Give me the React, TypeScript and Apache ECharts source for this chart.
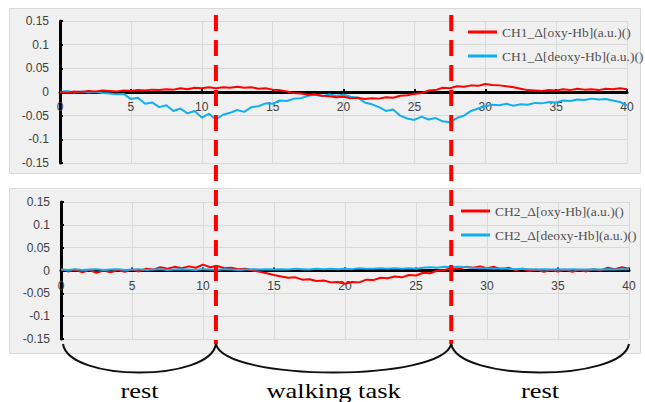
import React, { useEffect, useRef } from "react";
import * as echarts from "echarts";

// sampling step of the recordings (seconds)
const T_STEP = 0.5;

const CH1_OXY = [
  0.000, -0.002, 0.001, 0.000, 0.002, 0.001, 0.003, 0.002, 0.001, 0.003,
  0.002, 0.004, 0.003, 0.005, 0.004, 0.006, 0.005, 0.008, 0.006, 0.009,
  0.008, 0.010, 0.008, 0.010, 0.009, 0.011, 0.009, 0.010, 0.007, 0.008,
  0.005, 0.004, 0.001, -0.002, -0.003, -0.006, -0.005, -0.008, -0.009, -0.011,
  -0.010, -0.013, -0.012, -0.015, -0.013, -0.014, -0.011, -0.012, -0.008, -0.007,
  -0.004, -0.002, 0.003, 0.004, 0.009, 0.008, 0.012, 0.011, 0.014, 0.013,
  0.017, 0.015, 0.014, 0.012, 0.010, 0.007, 0.004, 0.003, 0.002, 0.004,
  0.003, 0.006, 0.004, 0.007, 0.005, 0.006, 0.004, 0.007, 0.006, 0.008,
  0.006,
];

const CH1_DEOXY = [
  0.000, 0.002, -0.001, 0.001, -0.001, 0.000, -0.002, -0.003, -0.005, -0.004,
  -0.015, -0.012, -0.025, -0.022, -0.032, -0.028, -0.040, -0.035, -0.045, -0.040,
  -0.054, -0.046, -0.058, -0.048, -0.044, -0.038, -0.042, -0.032, -0.030, -0.024,
  -0.025, -0.018, -0.019, -0.014, -0.013, -0.008, -0.006, -0.009, -0.005, -0.008,
  -0.006, -0.010, -0.012, -0.022, -0.026, -0.032, -0.040, -0.037, -0.050, -0.056,
  -0.059, -0.052, -0.058, -0.055, -0.062, -0.064, -0.055, -0.050, -0.040, -0.035,
  -0.030, -0.027, -0.028, -0.025, -0.029, -0.026, -0.027, -0.023, -0.024, -0.021,
  -0.022, -0.018, -0.019, -0.016, -0.017, -0.014, -0.016, -0.015, -0.018, -0.021,
  -0.028,
];

const CH2_OXY = [
  0.003, -0.002, 0.002, -0.004, 0.001, -0.005, 0.000, -0.004, 0.001, -0.003,
  0.002, -0.002, 0.004, 0.002, 0.007, 0.004, 0.008, 0.005, 0.009, 0.006,
  0.013, 0.007, 0.010, 0.005, 0.006, 0.003, 0.004, 0.000, -0.003, -0.006,
  -0.010, -0.013, -0.016, -0.015, -0.020, -0.019, -0.023, -0.022, -0.026, -0.025,
  -0.029, -0.025, -0.026, -0.020, -0.021, -0.016, -0.017, -0.013, -0.015, -0.010,
  -0.011, -0.005, -0.006, 0.000, 0.001, 0.005, 0.004, 0.008, 0.006, 0.009,
  0.005, 0.008, 0.003, 0.006, 0.001, 0.004, -0.001, 0.002, -0.003, 0.001,
  -0.002, 0.002, -0.003, 0.001, -0.002, 0.003, 0.000, 0.006, 0.003, 0.007,
  0.004,
];

const CH2_DEOXY = [
  0.002, 0.001, 0.003, 0.001, 0.002, 0.003, 0.001, 0.002, 0.003, 0.001,
  0.002, 0.003, 0.001, 0.002, 0.003, 0.001, 0.002, 0.003, 0.002, 0.001,
  0.003, 0.002, 0.001, 0.003, 0.002, 0.001, 0.002, 0.003, 0.002, 0.003,
  0.002, 0.003, 0.002, 0.004, 0.003, 0.002, 0.004, 0.003, 0.004, 0.003,
  0.004, 0.003, 0.005, 0.004, 0.004, 0.005, 0.004, 0.005, 0.004, 0.005,
  0.004, 0.006, 0.007, 0.006, 0.008, 0.007, 0.008, 0.007, 0.006, 0.005,
  0.005, 0.004, 0.005, 0.004, 0.003, 0.004, 0.003, 0.002, 0.003, 0.002,
  0.003, 0.002, 0.003, 0.002, 0.002, 0.003, 0.002, 0.003, 0.002, 0.003,
  0.003,
];

const SERIES_NAMES = [
  "CH1_\u0394[oxy-Hb](a.u.)()",
  "CH1_\u0394[deoxy-Hb](a.u.)()",
  "CH2_\u0394[oxy-Hb](a.u.)()",
  "CH2_\u0394[deoxy-Hb](a.u.)()",
];

const Y_TICK_LABELS = ["-0.15", "-0.1", "-0.05", "0", "0.05", "0.1", "0.15"];
const X_TICK_LABELS = ["0", "5", "10", "15", "20", "25", "30", "35", "40"];

const PHASE_BOUNDS = [0, 11, 27.6, 40];
const PHASE_LABELS = ["rest", "walking task", "rest"];

const RED = "#ff0000";
const BLUE = "#12aff0";

const GRIDS = [
  { left: 60, top: 21, width: 567, height: 142 },
  { left: 61, top: 202, width: 568, height: 137 },
];

const pairs = (arr: number[]) => arr.map((v, i) => [i * T_STEP, v]);

export default function App() {
  const ref = useRef<HTMLDivElement>(null);
  useEffect(() => {
    document.body.style.margin = "0";
    const chart = echarts.init(ref.current!, undefined, { renderer: "svg" });

    const xAxis = [0, 1].map((g) => ({
      type: "value",
      gridIndex: g,
      min: 0,
      max: 40,
      interval: 5,
      position: "bottom",
      // place the axis on the zero line (middle of the symmetric range)
      offset: -GRIDS[g].height / 2,
      axisLine: { onZero: false, lineStyle: { color: "#000", width: 3 } },
      axisTick: { show: true, inside: true, length: 3, lineStyle: { color: "#000", width: 2 } },
      axisLabel: {
        color: "#404040",
        fontFamily: "Liberation Sans",
        fontSize: 12,
        margin: 9,
        formatter: (v: number) => X_TICK_LABELS[Math.round(v / 5)] ?? "",
      },
      splitLine: { show: true, lineStyle: { color: "#d9d9d9", width: 1 } },
    }));

    const yAxis = [0, 1].map((g) => ({
      type: "value",
      gridIndex: g,
      min: -0.15,
      max: 0.15,
      interval: 0.05,
      axisLine: { show: true, onZero: false, lineStyle: { color: "#000", width: 3 } },
      axisTick: { show: true, inside: true, length: 3, lineStyle: { color: "#000", width: 2 } },
      axisLabel: {
        color: "#404040",
        fontFamily: "Liberation Sans",
        fontSize: 12,
        margin: 11,
        formatter: (v: number) => Y_TICK_LABELS[Math.round((v + 0.15) / 0.05)] ?? "",
      },
      splitLine: { show: true, lineStyle: { color: "#d9d9d9", width: 1 } },
    }));

    const line = (name: string, data: number[], color: string, g: number) => ({
      type: "line",
      name,
      xAxisIndex: g,
      yAxisIndex: g,
      data: pairs(data),
      symbol: "none",
      showSymbol: false,
      lineStyle: { color, width: 2 },
      itemStyle: { color },
      z: 3,
    });

    const legendBase = {
      orient: "vertical",
      icon: "rect",
      itemWidth: 29,
      itemHeight: 3,
      itemGap: 10,
      textStyle: { fontFamily: "Liberation Serif", fontSize: 13.5, color: "#505050" },
    };

    chart.setOption({
      animation: false,
      backgroundColor: "#ffffff",
      grid: GRIDS,
      legend: [
        { ...legendBase, left: 463, top: 20, data: [SERIES_NAMES[0], SERIES_NAMES[1]] },
        { ...legendBase, left: 456, top: 199, data: [SERIES_NAMES[2], SERIES_NAMES[3]] },
      ],
      xAxis,
      yAxis,
      series: [
        line(SERIES_NAMES[1], CH1_DEOXY, BLUE, 0),
        line(SERIES_NAMES[0], CH1_OXY, RED, 0),
        line(SERIES_NAMES[2], CH2_OXY, RED, 1),
        line(SERIES_NAMES[3], CH2_DEOXY, BLUE, 1),
      ],
    });

    const px = (g: number, x: number, y: number) =>
      chart.convertToPixel({ gridIndex: g }, [x, y]) as number[];

    const bx = PHASE_BOUNDS.map((b) => px(0, b, 0)[0]);
    bx[0] = px(1, 0, 0)[0] + 2;
    bx[3] = px(1, 40, 0)[0];
    const bottomY = px(1, 0, -0.15)[1];
    const braceTop = bottomY + 5;
    const braceCtl = braceTop + 38;

    const elements: any[] = [
      {
        type: "rect",
        z: -10,
        silent: true,
        shape: { x: 9.5, y: 8.5, width: 631, height: 165 },
        style: { fill: "#f0f0f0", stroke: "#d9d9d9", lineWidth: 1 },
      },
      {
        type: "rect",
        z: -10,
        silent: true,
        shape: { x: 9.5, y: 188.5, width: 631, height: 165 },
        style: { fill: "#f0f0f0", stroke: "#d9d9d9", lineWidth: 1 },
      },
    ];

    [1, 2].forEach((i) => {
      elements.push({
        type: "line",
        z: 100,
        silent: true,
        shape: { x1: bx[i], y1: 15, x2: bx[i], y2: braceTop },
        style: { stroke: RED, lineWidth: 4, lineDash: [16, 9] },
      });
    });

    for (let i = 0; i < 3; i++) {
      const x1 = bx[i];
      const x2 = bx[i + 1];
      const w = x2 - x1;
      elements.push({
        type: "bezierCurve",
        z: 90,
        silent: true,
        shape: {
          x1,
          y1: braceTop,
          cpx1: x1 + w * 0.04,
          cpy1: braceCtl,
          cpx2: x2 - w * 0.04,
          cpy2: braceCtl,
          x2,
          y2: braceTop,
        },
        style: { stroke: "#111", lineWidth: 2, fill: null },
      });
      elements.push({
        type: "text",
        z: 90,
        silent: true,
        x: (x1 + x2) / 2,
        y: 390,
        scaleX: 1.2,
        style: {
          text: PHASE_LABELS[i],
          x: 0,
          y: 0,
          align: "center",
          verticalAlign: "middle",
          fontFamily: "Liberation Serif",
          fontSize: 22,
          fill: "#000",
        },
      });
    }

    chart.setOption({ graphic: { elements } });

    return () => chart.dispose();
  }, []);

  return <div ref={ref} style={{ width: 645, height: 402 }} />;
}
